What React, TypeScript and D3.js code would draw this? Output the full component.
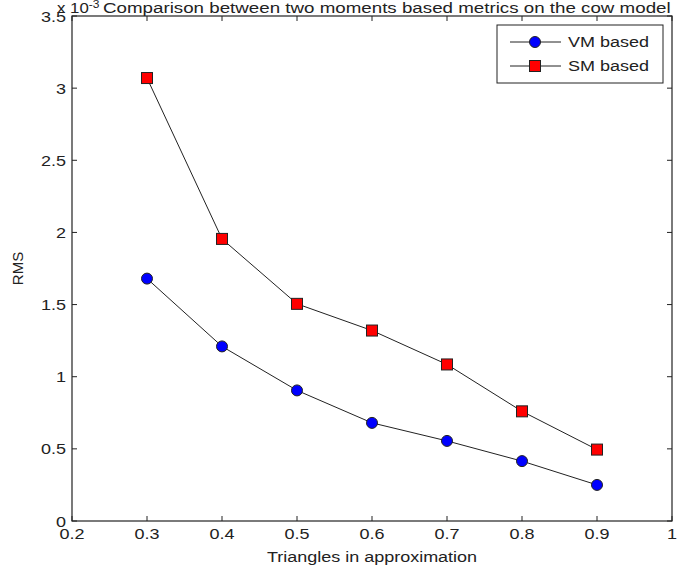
import React from "react";
import * as d3 from "d3";

const xValues = [0.3, 0.4, 0.5, 0.6, 0.7, 0.8, 0.9];
const vmValues = [1.68, 1.21, 0.905, 0.68, 0.555, 0.415, 0.25];
const smValues = [3.07, 1.955, 1.505, 1.32, 1.085, 0.76, 0.495];
const xTicks = [0.2, 0.3, 0.4, 0.5, 0.6, 0.7, 0.8, 0.9, 1];
const yTicks = [0, 0.5, 1, 1.5, 2, 2.5, 3, 3.5];
const seriesNames = ["VM based", "SM based"];
const titleText = "Comparison between two moments based metrics on the cow model";
const xLabel = "Triangles in approximation";
const yLabel = "RMS";

const W = 678;
const H = 572;
const L = 72, R = 672, T = 16, B = 521;
const FONT = "'Liberation Sans', Arial, sans-serif";
const INK = "#222";

function Txt(props: {
  x: number; y: number; anchor?: string; size?: number; sx?: number; children: React.ReactNode;
}) {
  const { x, y, anchor = "start", size = 15, sx = 1.2, children } = props;
  return (
    <text
      transform={`translate(${x},${y}) scale(${sx},1)`}
      textAnchor={anchor}
      fontFamily={FONT}
      fontSize={size}
      fill={INK}
    >
      {children}
    </text>
  );
}

export default function App() {
  const x = d3.scaleLinear().domain([0.2, 1]).range([L, R]);
  const y = d3.scaleLinear().domain([0, 3.5]).range([B, T]);
  const line = d3.line<number>().x((_, i) => x(xValues[i])).y((d) => y(d));
  const fmt = (v: number) => d3.format("")(v);
  const tick = 5;
  return (
    <svg width={W} height={H} style={{ position: "absolute", left: 0, top: 0, background: "#fff" }}>
      <rect x={0} y={0} width={W} height={H} fill="#fff" />
      <rect x={L} y={T} width={R - L} height={B - T} fill="#fff" stroke={INK} strokeWidth={1.2} />
      {xTicks.map((t) => (
        <g key={"x" + t}>
          <line x1={x(t)} x2={x(t)} y1={B} y2={B - tick} stroke={INK} />
          <line x1={x(t)} x2={x(t)} y1={T} y2={T + tick} stroke={INK} />
          <Txt x={x(t)} y={B + 18} anchor="middle">{fmt(t)}</Txt>
        </g>
      ))}
      {yTicks.map((t) => (
        <g key={"y" + t}>
          <line x1={L} x2={L + tick} y1={y(t)} y2={y(t)} stroke={INK} />
          <line x1={R} x2={R - tick} y1={y(t)} y2={y(t)} stroke={INK} />
          <Txt x={L - 6} y={y(t) + 5.5} anchor="end">{fmt(t)}</Txt>
        </g>
      ))}
      <Txt x={57} y={13} size={14}>
        x 10
        <tspan dy={-5} fontSize={10}>-3</tspan>
      </Txt>
      <Txt x={103} y={13} size={15} sx={1.25}>{titleText}</Txt>
      <Txt x={(L + R) / 2} y={562} anchor="middle">{xLabel}</Txt>
      <text
        transform={`translate(23,${(T + B) / 2}) rotate(-90)`}
        textAnchor="middle"
        fontFamily={FONT}
        fontSize={15}
        fill={INK}
      >
        {yLabel}
      </text>
      <path d={line(vmValues) || ""} fill="none" stroke={INK} strokeWidth={1} />
      <path d={line(smValues) || ""} fill="none" stroke={INK} strokeWidth={1} />
      {vmValues.map((v, i) => (
        <circle key={"vm" + i} cx={x(xValues[i])} cy={y(v)} r={5.5} fill="#0000ff" stroke={INK} strokeWidth={1} />
      ))}
      {smValues.map((v, i) => (
        <rect key={"sm" + i} x={x(xValues[i]) - 5.5} y={y(v) - 5.5} width={11} height={11} fill="#ff0000" stroke={INK} strokeWidth={1} />
      ))}
      <g>
        <rect x={497} y={25} width={166} height={58} fill="#fff" stroke={INK} strokeWidth={1} />
        <line x1={510} x2={561} y1={42} y2={42} stroke={INK} />
        <circle cx={535} cy={42} r={5.5} fill="#0000ff" stroke={INK} />
        <Txt x={568} y={47}>{seriesNames[0]}</Txt>
        <line x1={510} x2={561} y1={66} y2={66} stroke={INK} />
        <rect x={529.5} y={60.5} width={11} height={11} fill="#ff0000" stroke={INK} />
        <Txt x={568} y={71}>{seriesNames[1]}</Txt>
      </g>
    </svg>
  );
}
